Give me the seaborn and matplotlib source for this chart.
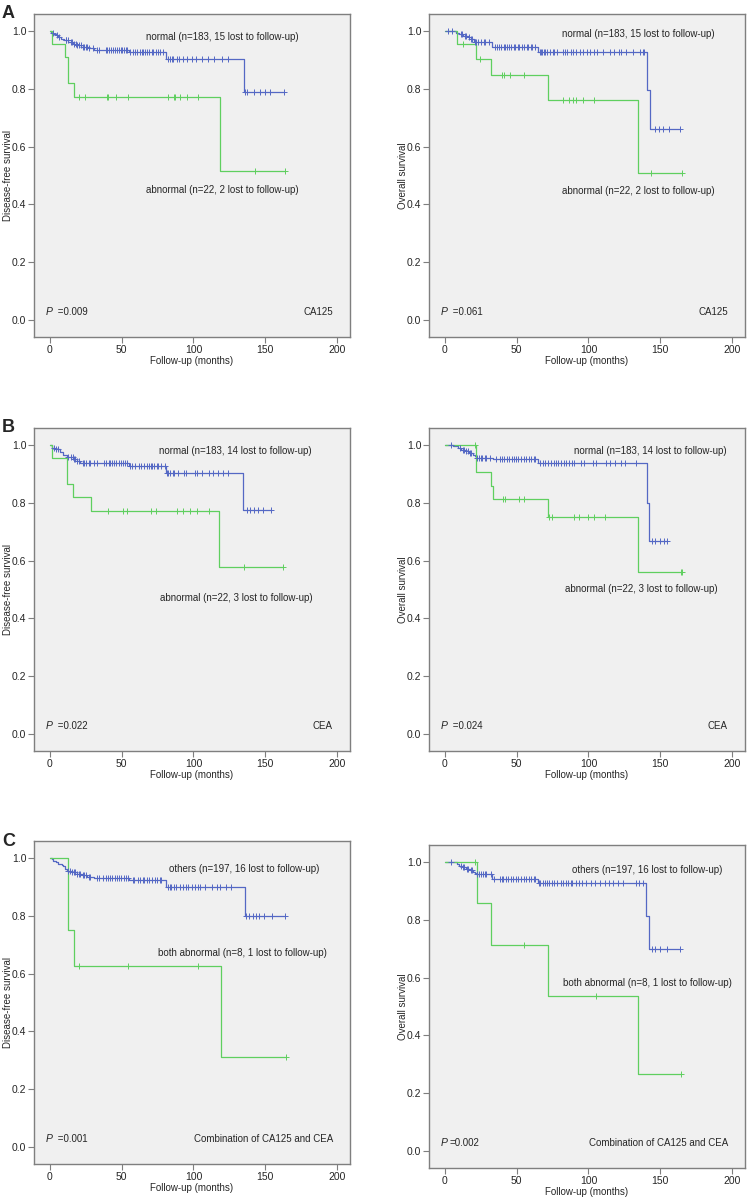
import numpy as np
import pandas as pd
import seaborn as sns
import matplotlib.pyplot as plt

# Kaplan-Meier curves (times in months, survival after each event)
# A: CA125, disease-free
dfs_ca125_norm_t = [1, 2.5, 4, 6, 8, 10, 13, 16, 19, 22, 27, 31, 55, 81, 135]
dfs_ca125_norm_s = [0.994, 0.989, 0.984, 0.978, 0.973, 0.967, 0.962, 0.956, 0.951, 0.945, 0.940, 0.935, 0.925, 0.901, 0.790]
dfs_ca125_norm_c = [2.3, 4.7, 6.5, 11, 11.6, 12.8, 14.7, 15.8, 16.7, 18, 19, 20.5, 21.4, 22.8, 24, 25, 26, 27.4, 30,
                    32.6, 34, 39, 40, 41.4, 42.8, 44, 45.3, 46.5, 48, 49.3, 50.2, 51.6, 53, 54, 56, 57.7, 59.3, 61,
                    62.8, 64, 65, 66.5, 68, 69.3, 71, 72, 74, 75.6, 77, 78.6, 82.6, 83.7, 85, 86, 88.4, 90, 93, 95.3,
                    98.8, 102, 106, 110, 114, 119.8, 124.4, 136, 137, 141.9, 146.5, 150, 153.5, 162.8]
dfs_ca125_abn_t = [1.2, 10.9, 12.8, 16.7, 118.8]
dfs_ca125_abn_s = [0.955, 0.909, 0.818, 0.770, 0.514]
dfs_ca125_abn_c = [20.5, 24.7, 39.5, 40.7, 45.8, 54.4, 82, 86.5, 87.2, 90.7, 95.3, 103, 142.6, 163.5]

# A: CA125, overall
os_ca125_norm_t = [8, 10, 13, 16, 18, 20, 33, 65, 140.7, 143]
os_ca125_norm_s = [0.994, 0.989, 0.983, 0.977, 0.971, 0.962, 0.943, 0.928, 0.794, 0.662]
os_ca125_norm_c = [2, 5, 11, 12, 14, 15, 17, 18, 19, 21, 22, 23, 25, 27, 28, 31, 35, 36, 38, 39, 41, 42, 43, 45, 46,
                   48, 49, 51, 52, 54, 55, 57, 58, 60, 61, 63, 66, 67, 68, 69, 70, 71, 73, 75, 76, 78, 82, 84, 85,
                   88, 89, 91, 94, 96, 99, 101, 104, 106, 110, 115, 118, 121, 123, 126, 131, 136, 138, 139, 146,
                   149, 152, 156, 164]
os_ca125_abn_t = [8.5, 21.9, 32.5, 71.8, 134.4]
os_ca125_abn_s = [0.955, 0.902, 0.846, 0.761, 0.507]
os_ca125_abn_c = [12.5, 24.5, 40, 41, 45.4, 54.8, 82.6, 86.6, 89, 91.3, 96, 103.8, 143.5, 165]

# B: CEA, disease-free
dfs_cea_norm_t = [1.2, 3.5, 7, 9.4, 11.7, 16.4, 18.7, 21, 55, 80.8, 134.2]
dfs_cea_norm_s = [0.99, 0.985, 0.975, 0.965, 0.957, 0.95, 0.945, 0.937, 0.926, 0.903, 0.774]
dfs_cea_norm_c = [2.8, 4.2, 5.9, 12.9, 14.5, 15.9, 16.9, 17.8, 18.9, 20.6, 23, 23.9, 25.3, 27, 28.1, 30.9, 32.8,
                  37.9, 39.3, 41, 42.2, 43.3, 45, 46.4, 48, 49.6, 51, 52.7, 53.9, 55.7, 57.4, 59, 62, 63.7, 65.6,
                  68, 69, 70.3, 71.4, 72.6, 74.5, 75.4, 77.3, 80, 81.5, 82.4, 83.8, 85.5, 86.7, 89, 93.7, 94.8,
                  101, 102.5, 105.8, 110.5, 113.5, 117, 120.6, 124, 137, 139.3, 142.3, 145, 148.7, 154]
dfs_cea_abn_t = [1.2, 12.2, 16.4, 29, 118]
dfs_cea_abn_s = [0.954, 0.863, 0.819, 0.771, 0.579]
dfs_cea_abn_c = [40.5, 50.8, 53.9, 70.7, 73.8, 88.5, 92.5, 97.9, 102.3, 110.5, 135, 162.3]

# B: CEA, overall
os_cea_norm_t = [5.4, 9, 11.3, 14.8, 17, 19.5, 20.7, 21.4, 33.6, 64.7, 140.7, 142.4]
os_cea_norm_s = [0.995, 0.989, 0.983, 0.977, 0.971, 0.965, 0.96, 0.955, 0.951, 0.936, 0.80, 0.668]
os_cea_norm_c = [4.2, 10.8, 12.5, 13.6, 14.9, 16, 17.2, 18.4, 22.6, 23.5, 24.9, 26.1, 27.8, 28.9, 31.3, 35.3, 38.4,
                 39.5, 41.4, 43.1, 44.7, 46.6, 48.5, 49.4, 51.3, 52.9, 54.8, 56.5, 58.4, 60.2, 61.9, 63, 66.6, 68.2,
                 70.1, 71.8, 73.6, 76, 77.2, 78.8, 80.7, 83.1, 84.7, 86.6, 88.5, 90.1, 94.8, 97.2, 103, 105.4, 112,
                 115.3, 118.8, 122.4, 125.4, 133, 144.2, 146.6, 149.6, 152.5, 154.8]
os_cea_abn_t = [21.4, 32.5, 33.6, 71.8, 134.4]
os_cea_abn_s = [0.905, 0.856, 0.811, 0.749, 0.562]
os_cea_abn_c = [21, 40.7, 41.9, 52, 54.8, 72.5, 74.8, 90.1, 93.6, 99.5, 104.2, 111.8, 164.2, 165.4]

# C: both markers, disease-free
dfs_comb_oth_t = [1.2, 2.4, 4.2, 5.9, 8.2, 9.4, 10.6, 11.8, 15.3, 18.8, 22.4, 25.9, 30.6, 55.3, 81.2, 135.8]
dfs_comb_oth_s = [0.995, 0.99, 0.985, 0.98, 0.975, 0.97, 0.96, 0.955, 0.95, 0.945, 0.94, 0.935, 0.93, 0.923, 0.90, 0.80]
dfs_comb_oth_c = [12.9, 14.1, 15.3, 16.5, 17.6, 18.9, 20, 21.2, 23.1, 24, 25.4, 27.1, 28.2, 32.9, 34.1, 37.2, 38.8,
                  40.5, 41.9, 43.5, 45.2, 46.6, 48.2, 49.9, 51.8, 52.9, 54.1, 57.6, 58.8, 61.2, 63.1, 64.7, 65.9,
                  67.8, 69.4, 71.1, 72.9, 74.8, 76.5, 77.6, 82.4, 83.5, 84.7, 86.6, 88.2, 90.6, 92.9, 94.6, 96.5,
                  98.8, 101.2, 103.1, 104.7, 108.2, 112.9, 116.5, 118.8, 122.4, 125.9, 136.5, 138.8, 141.2, 143.5,
                  145.9, 149.4, 154.8, 163.5]
dfs_comb_both_t = [12.9, 16.9, 119.3]
dfs_comb_both_s = [0.75, 0.625, 0.3125]
dfs_comb_both_c = [20.5, 54.6, 103.5, 164.7]

# C: both markers, overall
os_comb_oth_t = [8.5, 10, 12.5, 14.8, 17.2, 19.5, 20.7, 21.9, 33.2, 64.7, 140.2, 142.1]
os_comb_oth_s = [0.993, 0.987, 0.981, 0.975, 0.97, 0.965, 0.96, 0.957, 0.94, 0.928, 0.811, 0.697]
os_comb_oth_c = [4.2, 11.3, 12.6, 13.6, 15.5, 16.5, 17.9, 18.8, 22.6, 23.5, 24.9, 26.6, 27.8, 28.9, 32, 34.4, 38.4,
                 39.5, 40.7, 42.4, 44.2, 46.1, 47.8, 49.4, 51.3, 53.2, 54.8, 56.5, 58.4, 60.2, 61.9, 63, 65.4, 66.6,
                 68.2, 69.6, 71.3, 72.5, 74.4, 76, 78.4, 80.7, 82.4, 84.2, 86.1, 87.8, 88.9, 91.3, 93.6, 95.5,
                 98.4, 101.9, 104.9, 107.8, 111.3, 114.4, 117.2, 120.7, 124.2, 133.2, 135.5, 137.9, 144.2, 146.6,
                 150.1, 154.8, 163.8]
os_comb_both_t = [22.6, 32.5, 71.8, 134.4]
os_comb_both_s = [0.857, 0.714, 0.536, 0.268]
os_comb_both_c = [21.2, 54.8, 105.4, 164.7]

BLUE = '#5468c4'
GREEN = '#5fcf5f'

sns.set_style("ticks")
plt.rcParams['font.family'] = ['Liberation Sans', 'DejaVu Sans']
plt.rcParams['axes.facecolor'] = '#f0f0f0'
plt.rcParams['axes.edgecolor'] = '#7f7f7f'

W, H = 750, 1203
fig = plt.figure(figsize=(W / 100, H / 100), dpi=100)


def km(ax, t, s, c, color):
    end = max(c)
    df = pd.DataFrame({'t': [0] + list(t) + [end], 's': [1.0] + list(s) + [s[-1]]})
    sns.lineplot(data=df, x='t', y='s', drawstyle='steps-post', estimator=None,
                 color=color, lw=0.9, ax=ax)
    idx = np.searchsorted(np.array(t), np.array(c), side='right')
    cs = np.concatenate([[1.0], s])[idx]
    sns.scatterplot(x=c, y=cs, marker='+', s=14, linewidth=0.7, color=color, ax=ax, zorder=3)


panels = [
    # (left px, top px, ylabel, blue data, green data, labels, p, marker name, letter)
    (34, 14, 'Disease-free survival', (dfs_ca125_norm_t, dfs_ca125_norm_s, dfs_ca125_norm_c),
     (dfs_ca125_abn_t, dfs_ca125_abn_s, dfs_ca125_abn_c),
     ('normal (n=183, 15 lost to follow-up)', 120, 0.98), ('abnormal (n=22, 2 lost to follow-up)', 120, 0.45),
     ' =0.009', 'CA125', 'A'),
    (429, 14, 'Overall survival', (os_ca125_norm_t, os_ca125_norm_s, os_ca125_norm_c),
     (os_ca125_abn_t, os_ca125_abn_s, os_ca125_abn_c),
     ('normal (n=183, 15 lost to follow-up)', 135, 0.99), ('abnormal (n=22, 2 lost to follow-up)', 135, 0.445),
     ' =0.061', 'CA125', None),
    (34, 428, 'Disease-free survival', (dfs_cea_norm_t, dfs_cea_norm_s, dfs_cea_norm_c),
     (dfs_cea_abn_t, dfs_cea_abn_s, dfs_cea_abn_c),
     ('normal (n=183, 14 lost to follow-up)', 129, 0.98), ('abnormal (n=22, 3 lost to follow-up)', 130, 0.47),
     ' =0.022', 'CEA', 'B'),
    (429, 428, 'Overall survival', (os_cea_norm_t, os_cea_norm_s, os_cea_norm_c),
     (os_cea_abn_t, os_cea_abn_s, os_cea_abn_c),
     ('normal (n=183, 14 lost to follow-up)', 143, 0.98), ('abnormal (n=22, 3 lost to follow-up)', 137, 0.50),
     ' =0.024', 'CEA', None),
    (34, 841, 'Disease-free survival', (dfs_comb_oth_t, dfs_comb_oth_s, dfs_comb_oth_c),
     (dfs_comb_both_t, dfs_comb_both_s, dfs_comb_both_c),
     ('others (n=197, 16 lost to follow-up)', 135, 0.962), ('both abnormal (n=8, 1 lost to follow-up)', 134, 0.672),
     ' =0.001', 'Combination of CA125 and CEA', 'C'),
    (429, 845, 'Overall survival', (os_comb_oth_t, os_comb_oth_s, os_comb_oth_c),
     (os_comb_both_t, os_comb_both_s, os_comb_both_c),
     ('others (n=197, 16 lost to follow-up)', 141, 0.972), ('both abnormal (n=8, 1 lost to follow-up)', 141, 0.58),
     '=0.002', 'Combination of CA125 and CEA', None),
]

aw, ah = 316, 323
for left, top, ylab, blue, green, lab1, lab2, ptxt, name, letter in panels:
    ax = fig.add_axes([left / W, 1 - (top + ah) / H, aw / W, ah / H])
    km(ax, *blue, BLUE)
    km(ax, *green, GREEN)
    ax.set_xlim(-11, 209)
    ax.set_ylim(-0.058, 1.058)
    ax.set_xticks([0, 50, 100, 150, 200])
    ax.set_yticks([0.0, 0.2, 0.4, 0.6, 0.8, 1.0])
    ax.set_yticklabels(['0.0', '0.2', '0.4', '0.6', '0.8', '1.0'])
    ax.tick_params(length=4, width=0.8, color='#7f7f7f', labelsize=7.5, pad=1.5)
    for sp in ax.spines.values():
        sp.set_linewidth(1.0)
    ax.set_xlabel('Follow-up (months)', fontsize=7)
    ax.set_ylabel(ylab, fontsize=7)
    ax.xaxis.set_label_coords(0.5, -0.058)
    ax.yaxis.set_label_coords(-0.068, 0.5)
    ax.text(lab1[1], lab1[2], lab1[0], fontsize=7, ha='center', va='center')
    ax.text(lab2[1], lab2[2], lab2[0], fontsize=7, ha='center', va='center')
    ax.text(-3, 0.01, 'P', fontsize=7.5, style='italic', ha='left', va='bottom')
    ax.text(3.5, 0.01, ptxt, fontsize=7, ha='left', va='bottom')
    ax.text(197, 0.01, name, fontsize=7, ha='right', va='bottom')
    if letter:
        fig.text(2 / W, 1 - (top) / H, letter, fontsize=13, fontweight='bold', ha='left', va='center')

fig.savefig('out.png', dpi=100)
